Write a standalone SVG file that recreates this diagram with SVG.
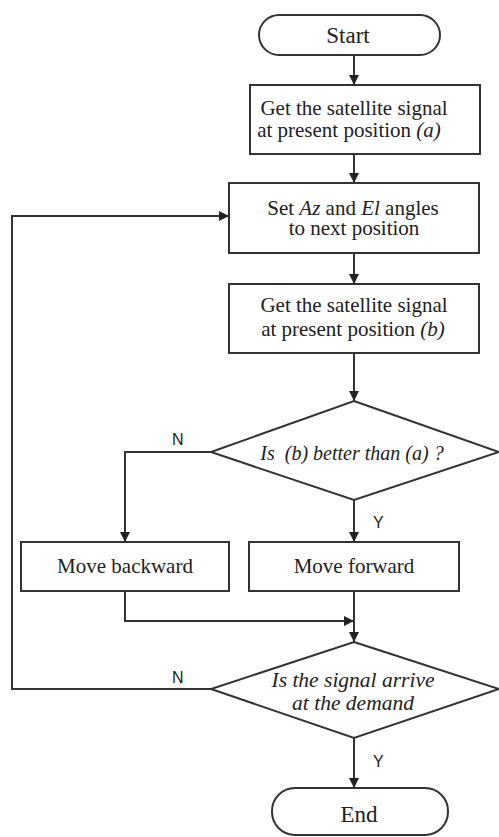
<svg xmlns="http://www.w3.org/2000/svg" width="499" height="837" viewBox="0 0 499 837">
<style>
.s{fill:#fff;stroke:#333;stroke-width:2}
.c{fill:none;stroke:#333;stroke-width:2}
.t{font-family:'Liberation Serif','DejaVu Serif',serif;font-size:21px;fill:#222;text-anchor:middle}
.i{font-style:italic}
.big{font-size:23px}
.l{font-family:'Liberation Sans','DejaVu Sans',sans-serif;font-size:16px;fill:#222}
</style>
<defs>
<marker id="a" viewBox="0 0 10 10" refX="10" refY="5" markerWidth="10" markerHeight="10" markerUnits="userSpaceOnUse" orient="auto">
<path d="M0,0 L10,5 L0,10 z" fill="#222"/>
</marker>
</defs>
<g id="start"><rect class="s" x="259" y="15" width="181" height="40" rx="20"/><text class="t big" x="348" y="43">Start</text></g>
<g id="get_a"><rect class="s" x="250" y="85" width="230" height="69"/><text class="t" x="354" y="115">Get the satellite signal</text><text class="t" x="349" y="137">at present position <tspan class="i">(a)</tspan></text></g>
<g id="set"><rect class="s" x="229" y="183" width="250" height="70"/><text class="t" x="353" y="215">Set <tspan class="i">Az</tspan> and <tspan class="i">El</tspan> angles</text><text class="t" x="354" y="235">to next position</text></g>
<g id="get_b"><rect class="s" x="229" y="284" width="250" height="69"/><text class="t" x="354" y="312">Get the satellite signal</text><text class="t" x="353" y="336">at present position <tspan class="i">(b)</tspan></text></g>
<g id="dec1"><polygon class="s" points="354,401 499,452 354,500 211,452"/><text class="t i" x="352" y="460" style="font-size:20px;white-space:pre">Is  (b) better than (a) ?</text></g>
<g id="back"><rect class="s" x="21" y="542" width="208" height="49"/><text class="t" x="125" y="573">Move backward</text></g>
<g id="fwd"><rect class="s" x="249" y="542" width="210" height="49"/><text class="t" x="354" y="573">Move forward</text></g>
<g id="dec2"><polygon class="s" points="354,642 499,689 354,738 211,689"/><text class="t i" x="353" y="687" style="font-size:21.5px">Is the signal arrive</text><text class="t i" x="353" y="710" style="font-size:21.5px">at the demand</text></g>
<g id="end"><rect class="s" x="272" y="788" width="176" height="47" rx="23"/><text class="t big" x="359" y="822">End</text></g>
<g id="connectors">
<line class="c" x1="354" y1="55" x2="354" y2="85" marker-end="url(#a)"/>
<line class="c" x1="354" y1="154" x2="354" y2="183" marker-end="url(#a)"/>
<line class="c" x1="354" y1="253" x2="354" y2="284" marker-end="url(#a)"/>
<line class="c" x1="354" y1="353" x2="354" y2="401" marker-end="url(#a)"/>
<polyline class="c" points="211,452 125,452 125,542" marker-end="url(#a)"/>
<line class="c" x1="354" y1="500" x2="354" y2="542" marker-end="url(#a)"/>
<polyline class="c" points="125,591 125,621 354,621" marker-end="url(#a)"/>
<line class="c" x1="354" y1="591" x2="354" y2="642" marker-end="url(#a)"/>
<polyline class="c" points="211,689 12,689 12,216 229,216" marker-end="url(#a)"/>
<line class="c" x1="354" y1="738" x2="354" y2="788" marker-end="url(#a)"/>
<text class="l" x="172" y="445">N</text>
<text class="l" x="373" y="528">Y</text>
<text class="l" x="172" y="683">N</text>
<text class="l" x="373" y="767">Y</text>
</g>
</svg>
